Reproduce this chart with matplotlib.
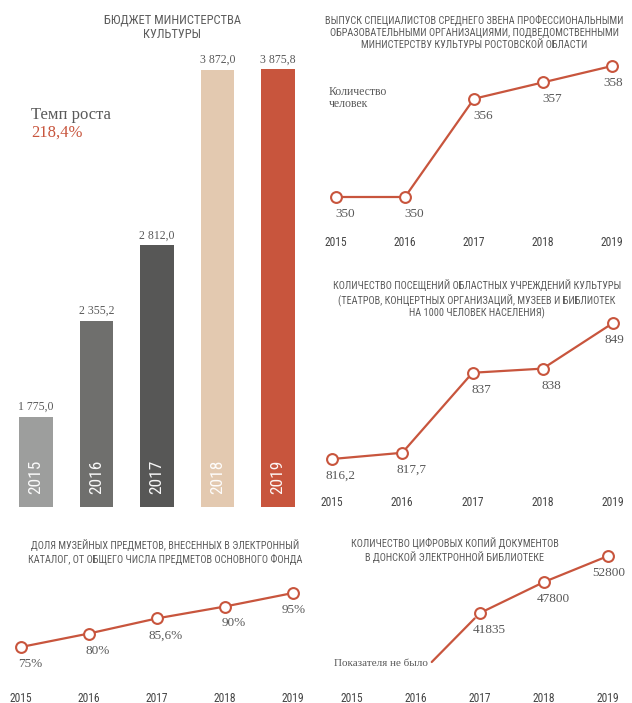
import matplotlib
matplotlib.use('Agg')
import matplotlib.pyplot as plt
from matplotlib import transforms

# ---------------- data ----------------
years = [2015, 2016, 2017, 2018, 2019]
year_labels = ['2015', '2016', '2017', '2018', '2019']

budget = [1775.0, 2355.2, 2812.0, 3872.0, 3875.8]
budget_title = 'БЮДЖЕТ МИНИСТЕРСТВА\nКУЛЬТУРЫ'
growth_label = 'Темп роста'

graduates = [350, 350, 356, 357, 358]
graduates_title = ('ВЫПУСК СПЕЦИАЛИСТОВ СРЕДНЕГО ЗВЕНА ПРОФЕССИОНАЛЬНЫМИ\n'
                   'ОБРАЗОВАТЕЛЬНЫМИ ОРГАНИЗАЦИЯМИ, ПОДВЕДОМСТВЕННЫМИ\n'
                   'МИНИСТЕРСТВУ КУЛЬТУРЫ РОСТОВСКОЙ ОБЛАСТИ')
graduates_unit = 'Количество\nчеловек'

visits = [816.2, 817.7, 837, 838, 849]
visits_title = ('КОЛИЧЕСТВО ПОСЕЩЕНИЙ ОБЛАСТНЫХ УЧРЕЖДЕНИЙ КУЛЬТУРЫ\n'
                '(ТЕАТРОВ, КОНЦЕРТНЫХ ОРГАНИЗАЦИЙ, МУЗЕЕВ И БИБЛИОТЕК\n'
                'НА 1000 ЧЕЛОВЕК НАСЕЛЕНИЯ)')

museum_share = [75, 80, 85.6, 90, 95]
museum_title = ('ДОЛЯ МУЗЕЙНЫХ ПРЕДМЕТОВ, ВНЕСЕННЫХ В ЭЛЕКТРОННЫЙ\n'
                'КАТАЛОГ, ОТ ОБЩЕГО ЧИСЛА ПРЕДМЕТОВ ОСНОВНОГО ФОНДА')

digital_years = [2017, 2018, 2019]
digital_copies = [41835, 47800, 52800]
digital_title = ('КОЛИЧЕСТВО ЦИФРОВЫХ КОПИЙ ДОКУМЕНТОВ\n'
                 'В ДОНСКОЙ ЭЛЕКТРОННОЙ БИБЛИОТЕКЕ')
digital_note = 'Показателя не было'

# ---------------- styles ----------------
W, H = 632, 703
RED = '#c8553d'
TXT = '#595959'
TITLE_C = '#5c5c5c'
YEAR_C = '#444444'
BAR_COLORS = ['#9d9e9d', '#6f6f6d', '#575756', '#e3c9b0', '#c8553d']
SANS = ['Roboto Condensed', 'PT Sans Narrow', 'DejaVu Sans']
SERIF = ['Liberation Serif', 'DejaVu Serif']
TITLE_FS = 7.35

fig = plt.figure(figsize=(W / 100, H / 100), dpi=100)
fig.patch.set_facecolor('white')


def T(x, y, s, **kw):
    return fig.text(x / W, 1 - y / H, s, **kw)


def title(x, y, s, fs=TITLE_FS, ls=1.25):
    return T(x, y, s, ha='center', va='center', fontsize=fs, family=SANS,
             color=TITLE_C, linespacing=ls)


def px_axes(l, t, r, b):
    ax = fig.add_axes([l / W, 1 - b / H, (r - l) / W, (b - t) / H])
    ax.axis('off')
    return ax


def fmt(v, suffix=''):
    return f'{v:g}'.replace('.', ',') + suffix


def fmt_budget(v):
    return f'{v:,.1f}'.replace(',', ' ').replace('.', ',')


def line_panel(box, xa, ya, xs, ys, labels, year_y, dx=9, dy=17):
    l, t, r, b = box
    x0, px0, x1, px1 = xa
    y0, py0, y1, py1 = ya
    ax = px_axes(l, t, r, b)
    sx = (px1 - px0) / (x1 - x0)
    ax.set_xlim(x0 - (px0 - l) / sx, x0 + (r - px0) / sx)
    sy = (py0 - py1) / (y1 - y0)
    ax.set_ylim(y0 - (b - py0) / sy, y0 + (py0 - t) / sy)
    ax.plot(xs, ys, color=RED, lw=1.6, marker='o', ms=7.8, mfc='white',
            mec=RED, mew=1.5, clip_on=False, zorder=3)
    n = len(xs)
    for i, (x, y, s) in enumerate(zip(xs, ys, labels)):
        ddx = 1 if i == n - 1 else dx
        ax.annotate(s, (x, y), xytext=(ddx * 0.72, -dy * 0.72),
                    textcoords='offset points', ha='center', va='center',
                    fontsize=9.5, family=SERIF, color=TXT, zorder=4)
    tr = transforms.blended_transform_factory(ax.transData, fig.transFigure)
    for yr, lab in zip(years, year_labels):
        ax.text(yr, 1 - year_y / H, lab, transform=tr, ha='center',
                va='center', fontsize=8.3, family=SANS, color=YEAR_C,
                clip_on=False)
    return ax


# ---------------- budget bars ----------------
axb = px_axes(0, 40, 316, 507)
xb = list(range(len(years)))
sxb = (278 - 36) / 4
axb.set_xlim(-36 / sxb, 4 + (316 - 278) / sxb)
axb.set_ylim(1228, 4051)
axb.bar(xb, budget, width=0.56, color=BAR_COLORS, zorder=2)
trb = transforms.blended_transform_factory(axb.transData, fig.transFigure)
for x, v, lab in zip(xb, budget, year_labels):
    axb.annotate(fmt_budget(v), (x, v), xytext=(0, 2.5),
                 textcoords='offset points', ha='center', va='bottom',
                 fontsize=8.5, family=SERIF, color=TXT)
    axb.text(x, 1 - 494 / H, lab, transform=trb, rotation=90, ha='center',
             va='bottom', fontsize=12.5, family=SANS, color='white',
             alpha=0.95)

title(172, 27, budget_title, fs=9, ls=1.1)
growth = f'{budget[-1] / budget[0] * 100:.1f}%'.replace('.', ',')
T(31, 119, growth_label, ha='left', va='baseline', fontsize=12,
  family=SERIF, color=TXT)
T(31, 137, growth, ha='left', va='baseline', fontsize=12,
  family=SERIF, color=RED)

# ---------------- graduates ----------------
line_panel((316, 55, 632, 232), (2015, 336, 2019, 612), (350, 197, 358, 66),
           years, graduates, [fmt(v) for v in graduates], 243)
title(474, 32, graduates_title)
T(329, 98, graduates_unit, ha='left', va='center', fontsize=8.5,
  family=SERIF, color=TXT, linespacing=1.05)

# ---------------- visits ----------------
line_panel((316, 318, 632, 490), (2015, 332, 2019, 613),
           (816.2, 459, 849, 323),
           years, visits, [fmt(v) for v in visits], 502)
title(477, 299, visits_title)

# ---------------- museum share ----------------
line_panel((0, 580, 316, 685), (2015, 21, 2019, 293), (75, 647, 95, 593),
           years, museum_share, [fmt(v, '%') for v in museum_share], 698)
title(165, 552, museum_title)

# ---------------- digital copies ----------------
axd = line_panel((316, 545, 632, 685), (2017, 480, 2019, 608),
                 (41835, 613, 52800, 556),
                 digital_years, digital_copies,
                 [fmt(v) for v in digital_copies], 698)
axd.annotate(digital_note, xy=(digital_years[0], digital_copies[0]),
             xytext=(428, H - 664), textcoords='figure pixels',
             ha='right', va='center', fontsize=8, family=SERIF, color=TXT,
             arrowprops=dict(arrowstyle='-', color=RED, lw=1.6,
                             shrinkA=1, shrinkB=5.5, relpos=(1.0, 0.3)),
             zorder=2)
title(455, 550, digital_title)

fig.savefig('out.png', dpi=100, facecolor='white')
